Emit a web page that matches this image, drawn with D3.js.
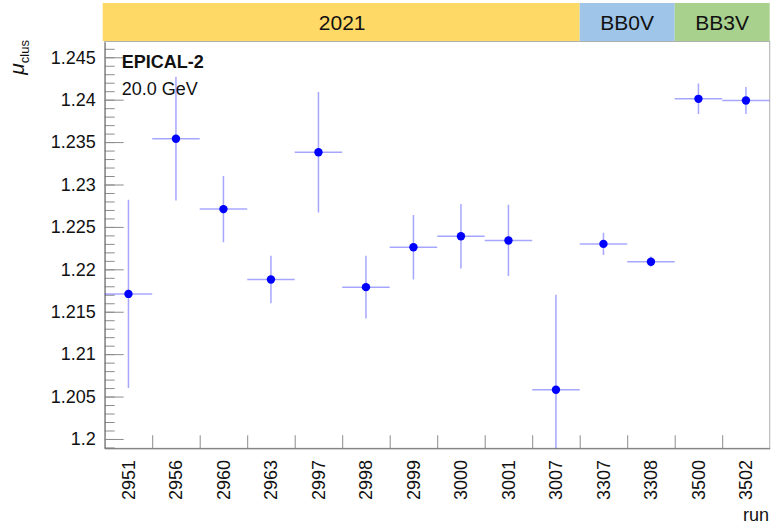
<!DOCTYPE html>
<html>
<head>
<meta charset="utf-8">
<script src="https://cdn.jsdelivr.net/npm/d3@7"></script>
<style>
  body { margin: 0; background: #fff; }
  svg { font-family: "Liberation Sans", Arial, sans-serif; }
  .axis text { font-size: 18px; fill: #111; }
  .axis .tick line { stroke: #8c8c8c; }
  .axis .domain { stroke: #6e6e6e; }
</style>
</head>
<body>
<svg id="chart" width="773" height="527"></svg>
<script>
// run numbers on the x axis
var runs = ["2951", "2956", "2960", "2963", "2997", "2998", "2999", "3000", "3001", "3007", "3307", "3308", "3500", "3502"];
// mean cluster value per run and its error
var mu = [1.2171, 1.2354, 1.2271, 1.2188, 1.2338, 1.2179, 1.2226, 1.2239, 1.2234, 1.2058, 1.2230, 1.2209, 1.2401, 1.2399];
var muErr = [0.0111, 0.0073, 0.0039, 0.0028, 0.0071, 0.0037, 0.0038, 0.0038, 0.0042, 0.0112, 0.0013, 0.0006, 0.0018, 0.0016];
// beam periods shown in the band above the plot
var periods = ["2021", "BB0V", "BB3V"];
var periodRuns = [10, 2, 2];
var periodColors = ["#ffd966", "#9fc5e8", "#a9d18e"];
var yTicks = [1.2, 1.205, 1.21, 1.215, 1.22, 1.225, 1.23, 1.235, 1.24, 1.245];

// note: "top" is a reserved window property, so use other names
var plotLeft = 104.7, plotRight = 769.7, plotTop = 42, plotBottom = 448.3;
var svg = d3.select("#chart");

var x = d3.scaleBand().domain(runs).range([plotLeft, plotRight]).padding(0);
var y = d3.scaleLinear().domain([1.1989, 1.2468]).range([plotBottom, plotTop]);

// period band
var starts = [];
var acc = 0;
periodRuns.forEach(function(n){ starts.push(acc); acc += n; });
var band = svg.append("g");
band.selectAll("rect")
    .data(periods)
    .enter()
    .append("rect")
    .attr("x", function(d, i){ return x(runs[starts[i]]) - (i == 0 ? 2 : 0); })
    .attr("y", 3)
    .attr("width", function(d, i){ return periodRuns[i] * x.bandwidth() + (i == 0 ? 2 : 0); })
    .attr("height", 38)
    .attr("fill", function(d, i){ return periodColors[i]; });
band.selectAll("text")
    .data(periods)
    .enter()
    .append("text")
    .attr("x", function(d, i){ return x(runs[starts[i]]) + periodRuns[i] * x.bandwidth() / 2; })
    .attr("y", 30)
    .attr("text-anchor", "middle")
    .attr("font-size", 21)
    .attr("fill", "#111")
    .text(function(d){ return d; });

// frame
svg.append("rect")
    .attr("x", plotLeft).attr("y", plotTop - 0.5)
    .attr("width", plotRight - plotLeft).attr("height", plotBottom - plotTop + 0.5)
    .attr("fill", "none").attr("stroke", "#b0b0b0");

// minor y ticks
var minor = d3.range(1199, 1247).map(function(d){ return d / 1000; });
svg.append("g")
    .attr("class", "axis")
    .attr("transform", "translate(" + plotLeft + ",0)")
    .call(d3.axisLeft(y).tickValues(minor).tickSize(-10).tickSizeOuter(0).tickFormat(""))
    .select(".domain").remove();

// major y ticks and labels
svg.append("g")
    .attr("class", "axis")
    .attr("transform", "translate(" + plotLeft + ",0)")
    .call(d3.axisLeft(y).tickValues(yTicks).tickSize(-19).tickSizeOuter(0).tickPadding(9)
        .tickFormat(function(d){ return String(+d.toFixed(3)); }));

// x ticks at bin edges
var edges = d3.scaleLinear().domain([0, runs.length]).range([plotLeft, plotRight]);
svg.append("g")
    .attr("class", "axis")
    .attr("transform", "translate(0," + plotBottom + ")")
    .call(d3.axisBottom(edges).tickValues(d3.range(1, runs.length)).tickSize(-13).tickSizeOuter(0).tickFormat(""));

// run labels, rotated
svg.append("g")
    .attr("class", "axis")
    .selectAll("text")
    .data(runs)
    .enter()
    .append("text")
    .attr("transform", function(d){ return "translate(" + (x(d) + x.bandwidth() / 2) + ",460) rotate(-90)"; })
    .attr("text-anchor", "end")
    .attr("dy", "0.35em")
    .text(function(d){ return d; });

// axis titles
svg.append("text")
    .attr("x", 769).attr("y", 521)
    .attr("text-anchor", "end")
    .attr("font-size", 18)
    .attr("fill", "#111")
    .text("run");

var ytitle = svg.append("text")
    .attr("transform", "translate(24,40) rotate(-90)")
    .attr("text-anchor", "end")
    .attr("fill", "#111");
ytitle.append("tspan").attr("font-size", 21).attr("font-style", "italic").text("\u03bc");
ytitle.append("tspan").attr("font-size", 13).attr("dy", 5).text("clus");

// labels inside plot
svg.append("text")
    .attr("x", 121.7).attr("y", 68)
    .attr("font-size", 18).attr("font-weight", "bold").attr("fill", "#111")
    .text("EPICAL-2");
svg.append("text")
    .attr("x", 121.7).attr("y", 95)
    .attr("font-size", 18).attr("fill", "#111")
    .text("20.0 GeV");

// points with errors
svg.append("clipPath").attr("id", "plotClip")
    .append("rect")
    .attr("x", plotLeft).attr("y", plotTop)
    .attr("width", plotRight - plotLeft).attr("height", plotBottom - plotTop);

var pts = svg.append("g").attr("clip-path", "url(#plotClip)");
var cx = function(d, i){ return x(runs[i]) + x.bandwidth() / 2; };

pts.selectAll(".herr")
    .data(mu)
    .enter()
    .append("line")
    .attr("class", "herr")
    .attr("x1", function(d, i){ return x(runs[i]); })
    .attr("x2", function(d, i){ return x(runs[i]) + x.bandwidth(); })
    .attr("y1", function(d){ return y(d); })
    .attr("y2", function(d){ return y(d); })
    .attr("stroke", "#0000ff").attr("stroke-opacity", 0.35).attr("stroke-width", 1.5);

pts.selectAll(".verr")
    .data(mu)
    .enter()
    .append("line")
    .attr("class", "verr")
    .attr("x1", cx)
    .attr("x2", cx)
    .attr("y1", function(d, i){ return y(d - muErr[i]); })
    .attr("y2", function(d, i){ return y(d + muErr[i]); })
    .attr("stroke", "#0000ff").attr("stroke-opacity", 0.35).attr("stroke-width", 1.5);

pts.selectAll("circle")
    .data(mu)
    .enter()
    .append("circle")
    .attr("cx", cx)
    .attr("cy", function(d){ return y(d); })
    .attr("r", 4.2)
    .attr("fill", "#0000ff");
</script>
</body>
</html>
